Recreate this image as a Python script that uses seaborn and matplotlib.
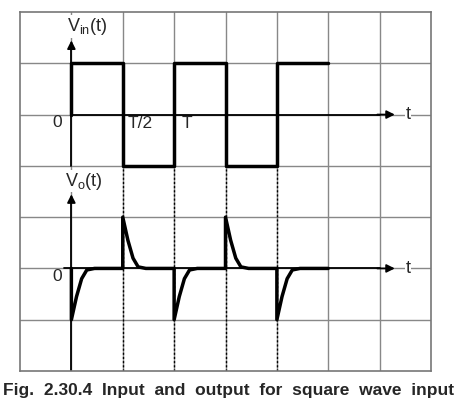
import matplotlib
matplotlib.use("Agg")
import matplotlib.pyplot as plt
import seaborn as sns

# grid units: x 0..8 columns, y 0..7 rows
vin_t = [1, 1, 2, 2, 3, 3, 4, 4, 5, 5, 6]
vin_v = [5, 6, 6, 4, 4, 6, 6, 4, 4, 6, 6]

# output spike shapes (offsets from each edge)
down_dt = [0, 0, 0.1, 0.2, 0.3, 0.45]
down_v = [2, 1, 1.45, 1.8, 1.97, 2]
up_dt = [0, 0, 0.1, 0.2, 0.3, 0.45]
up_v = [2, 3, 2.55, 2.2, 2.03, 2]
edges = [1, 2, 3, 4, 5]
edge_kind = ["down", "up", "down", "up", "down"]
end_t = 6

vo_t, vo_v = [], []
for e, k in zip(edges, edge_kind):
    dts, vs = (down_dt, down_v) if k == "down" else (up_dt, up_v)
    vo_t += [e + d for d in dts]
    vo_v += vs
vo_t.append(end_t)
vo_v.append(2)

sns.set_theme(style="white")
plt.rcParams['font.family'] = ['Liberation Sans', 'DejaVu Sans']

fig = plt.figure(figsize=(4.57, 4.09), dpi=100)
ax = fig.add_axes([20/457, 38/409, 411/457, 359/409])
ax.set_xlim(0, 8)
ax.set_ylim(0, 7)
ax.set_xticks([])
ax.set_yticks([])
for s in ax.spines.values():
    s.set_color("#777777")
    s.set_linewidth(1.2)
for i in range(1, 8):
    ax.axvline(i, color="#888888", lw=1, zorder=0)
for j in range(1, 7):
    ax.axhline(j, color="#888888", lw=1, zorder=0)

# dotted guides
for e in edges[1:]:
    ax.plot([e, e], [0, 4], color="black", lw=1, ls=(0, (1.5, 1.5)), zorder=1)

# axes with arrows
ax.plot([1, 1], [4, 6.35], color="black", lw=1.3, zorder=2)
ax.annotate("", xy=(1, 6.5), xytext=(1, 6.3),
            arrowprops=dict(arrowstyle="-|>", color="black", lw=1.3))
ax.plot([1, 1], [0, 3.35], color="black", lw=1.3, zorder=2)
ax.annotate("", xy=(1, 3.5), xytext=(1, 3.3),
            arrowprops=dict(arrowstyle="-|>", color="black", lw=1.3))
for y in [5, 2]:
    ax.plot([0.85 if y == 2 else 1, 7.0], [y, y], color="black", lw=1.3, zorder=2)
    ax.annotate("", xy=(7.35, y), xytext=(6.9, y),
                arrowprops=dict(arrowstyle="-|>", color="black", lw=1.3))
    ax.text(7.55, y, "t", ha="center", va="center", fontsize=13,
            bbox=dict(facecolor="white", edgecolor="none", pad=0.5))

sns.lineplot(x=vin_t, y=vin_v, sort=False, estimator=None, color="black",
             lw=2.5, ax=ax, zorder=3)
sns.lineplot(x=vo_t, y=vo_v, sort=False, estimator=None, color="black",
             lw=2.5, ax=ax, zorder=3)

ax.text(1.3, 6.72, "V$_{\\mathregular{in}}$(t)", ha="center", va="center", fontsize=13,
        bbox=dict(facecolor="white", edgecolor="none", pad=0.5))
ax.text(1.25, 3.7, "V$_{\\mathregular{o}}$(t)", ha="center", va="center", fontsize=13,
        bbox=dict(facecolor="white", edgecolor="none", pad=0.5))
ax.text(0.73, 4.84, "0", ha="center", va="center", fontsize=12.5)
ax.text(0.73, 1.84, "0", ha="center", va="center", fontsize=12.5)
ax.text(2.1, 4.83, "T/2", ha="left", va="center", fontsize=12.5)
ax.text(3.15, 4.83, "T", ha="left", va="center", fontsize=12.5)

fig.text(0.5, 19/409, "Fig.  2.30.4  Input  and  output  for  square  wave  input",
         ha="center", va="center", fontsize=12.5, fontweight="bold")
fig.savefig("out.png", dpi=100)
